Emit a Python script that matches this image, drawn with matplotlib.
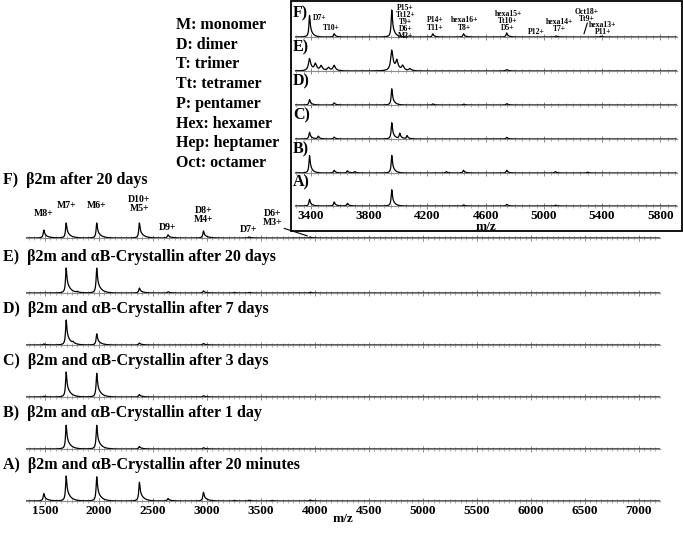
import numpy as np
import matplotlib
matplotlib.use("Agg")
import matplotlib.pyplot as plt
from matplotlib.patches import Rectangle
from matplotlib.ticker import MultipleLocator, FixedLocator

plt.rcParams["font.family"] = ["Liberation Serif", "DejaVu Serif"]
plt.rcParams["font.weight"] = "bold"

# ---- main spectra: peak m/z and relative heights ----
main_titles = [
    "F)  \u03b22m after 20 days",
    "E)  \u03b22m and \u03b1B-Crystallin after 20 days",
    "D)  \u03b22m and \u03b1B-Crystallin after 7 days",
    "C)  \u03b22m and \u03b1B-Crystallin after 3 days",
    "B)  \u03b22m and \u03b1B-Crystallin after 1 day",
    "A)  \u03b22m and \u03b1B-Crystallin after 20 minutes",
]
f_mz = [1490, 1697, 1980, 2375, 2640, 2968, 3390, 3955]
f_int = [0.32, 0.60, 0.60, 0.60, 0.13, 0.28, 0.04, 0.04]
e_mz = [1697, 1800, 1980, 2375, 2640, 2968, 3250, 3390, 3955]
e_int = [1.00, 0.04, 1.00, 0.20, 0.05, 0.08, 0.02, 0.02, 0.03]
d_mz = [1490, 1697, 1760, 1980, 2375, 2968]
d_int = [0.04, 1.00, 0.06, 0.45, 0.08, 0.06]
c_mz = [1490, 1697, 1980, 2375, 2968]
c_int = [0.03, 1.00, 0.95, 0.10, 0.05]
b_mz = [1697, 1980, 2375, 2968]
b_int = [0.95, 0.95, 0.10, 0.05]
a_mz = [1490, 1697, 1980, 2375, 2640, 2968, 3250, 3390, 3600, 3955]
a_int = [0.30, 1.00, 0.97, 0.75, 0.10, 0.35, 0.02, 0.03, 0.02, 0.04]
main_mz = [f_mz, e_mz, d_mz, c_mz, b_mz, a_mz]
main_int = [f_int, e_int, d_int, c_int, b_int, a_int]

# peak labels on spectrum F (x, y in data units)
f_labels = ["M8+", "M7+", "M6+", "D10+\nM5+", "D9+", "D8+\nM4+", "D7+", "D6+\nM3+"]
f_label_x = [1490, 1697, 1980, 2375, 2640, 2968, 3390, 3610]
f_label_y = [1.00, 1.28, 1.28, 1.36, 0.44, 0.92, 0.32, 0.80]

legend_lines = ["M: monomer", "D: dimer", "T: trimer", "Tt: tetramer",
                "P: pentamer", "Hex: hexamer", "Hep: heptamer", "Oct: octamer"]

# ---- inset (zoom 3300-5900) ----
inset_rows = ["F)", "E)", "D)", "C)", "B)", "A)"]
inset_ticks = [3400, 3800, 4200, 4600, 5000, 5400, 5800]
inf_mz = [3390, 3559, 3955, 4237, 4448, 4745, 5084, 5392]
inf_int = [0.80, 0.12, 1.00, 0.12, 0.12, 0.15, 0.04, 0.03]
ine_mz = [3390, 3430, 3470, 3520, 3559, 3955, 3990, 4030, 4080, 4745]
ine_int = [0.45, 0.25, 0.18, 0.12, 0.20, 0.75, 0.35, 0.18, 0.08, 0.05]
ind_mz = [3390, 3559, 3955, 4237, 4448, 4745]
ind_int = [0.20, 0.08, 0.60, 0.04, 0.03, 0.05]
inc_mz = [3390, 3450, 3559, 3955, 4010, 4060, 4745]
inc_int = [0.25, 0.10, 0.07, 0.60, 0.20, 0.12, 0.06]
inb_mz = [3390, 3559, 3650, 3700, 3955, 4330, 4448, 4745, 5080, 5300]
inb_int = [0.65, 0.10, 0.08, 0.05, 0.65, 0.05, 0.10, 0.10, 0.05, 0.03]
ina_mz = [3390, 3559, 3650, 3955, 4448, 4745, 5080]
ina_int = [0.25, 0.15, 0.10, 0.60, 0.04, 0.06, 0.03]
inset_mz = [inf_mz, ine_mz, ind_mz, inc_mz, inb_mz, ina_mz]
inset_int = [inf_int, ine_int, ind_int, inc_int, inb_int, ina_int]

inset_labels = ["D7+", "T10+", "P15+\nTt12+\nT9+\nD6+\nM3+", "P14+\nT11+",
                "hexa16+\nT8+", "hexa15+\nTt10+\nD5+", "P12+", "hexa14+\nT7+",
                "Oct18+\nTt9+", "hexa13+\nP11+"]
inset_label_x = [3414, 3537, 4050, 4252, 4458, 4754, 4950, 5105, 5297, 5405]
inset_label_y = [0.70, 0.33, 0.56, 0.48, 0.48, 0.59, 0.17, 0.44, 0.81, 0.33]


def spectrum(x, mz, inten, width, tail):
    y = np.zeros_like(x)
    for c, h in zip(mz, inten):
        d = x - c
        lor = 1.0 / (1.0 + (d / width) ** 2)
        right = 0.5 * lor + 0.5 * np.exp(-np.clip(d, 0, None) / tail)
        y += h * np.where(d < 0, lor, right)
    return y


W, H = 683, 536
fig = plt.figure(figsize=(W / 100, H / 100), dpi=100)


def fx(px):
    return px / W


def fy(py):
    return 1 - py / H


def style_axis(ax, minor):
    for s in ["top", "left", "right"]:
        ax.spines[s].set_visible(False)
    ax.spines["bottom"].set_color("0.55")
    ax.spines["bottom"].set_linewidth(0.8)
    ax.set_yticks([])
    ax.xaxis.set_minor_locator(MultipleLocator(minor))
    ax.tick_params(axis="x", which="major", direction="inout", length=4,
                   width=0.6, color="0.45")
    ax.tick_params(axis="x", which="minor", direction="inout", length=2.5,
                   width=0.5, color="0.55")
    ax.patch.set_alpha(0)


# main panels
main_base = [238, 293, 345, 397, 449, 501]
x_main = np.linspace(1325, 7195, 6000)
for i, (mz, inten) in enumerate(zip(main_mz, main_int)):
    yb = main_base[i]
    ax = fig.add_axes([fx(26), fy(yb), fx(634), 30 / H])
    ax.plot(x_main, spectrum(x_main, mz, inten, 7, 35), color="black", lw=0.9)
    ax.set_xlim(1325, 7195)
    ax.set_ylim(0, 1.2)
    ax.xaxis.set_major_locator(MultipleLocator(500))
    style_axis(ax, 50)
    title_y = 180 if i == 0 else yb - 36
    fig.text(fx(3), fy(title_y), main_titles[i], fontsize=11.5,
             fontweight="bold", va="center", ha="left")
    if i == 0:
        for lab, lx, ly in zip(f_labels, f_label_x, f_label_y):
            ax.text(lx, ly, lab, fontsize=7, fontweight="bold", ha="center",
                    va="center", linespacing=0.95, clip_on=False)
        ax.annotate("", xy=(3955, 0.05), xytext=(3690, 0.42),
                    arrowprops=dict(arrowstyle="-", lw=0.8, color="black"),
                    annotation_clip=False)
    if i == 5:
        ax.tick_params(axis="x", which="major", labelsize=9.5, pad=1)
        for t in ax.get_xticklabels():
            t.set_fontweight("bold")
        ax.set_xlabel("m/z", fontsize=9.5, fontweight="bold", labelpad=-3)
    else:
        ax.tick_params(axis="x", labelbottom=False)

# legend text
for k, line in enumerate(legend_lines):
    fig.text(fx(176), fy(25 + k * 19.7), line, fontsize=11.5, fontweight="bold",
             va="center", ha="left")

# inset frame
fig.add_artist(Rectangle((fx(291), fy(231)), fx(391), 231 / H - 0.002,
                         transform=fig.transFigure, fill=False, lw=1.3,
                         edgecolor="black"))

inset_base = [37, 71, 105, 139, 173, 206]
x_in = np.linspace(3290, 5915, 4000)
for i, (mz, inten) in enumerate(zip(inset_mz, inset_int)):
    yb = inset_base[i]
    ax = fig.add_axes([fx(295), fy(yb), fx(382), 30 / H])
    width = 9 if i == 1 else 5
    ax.plot(x_in, spectrum(x_in, mz, inten, width, 18), color="black", lw=0.9)
    ax.set_xlim(3290, 5915)
    ax.set_ylim(0, 30 / 27)
    ax.xaxis.set_major_locator(FixedLocator(inset_ticks))
    style_axis(ax, 50)
    fig.text(fx(293), fy(yb - 24), inset_rows[i], fontsize=11.5,
             fontweight="bold", va="center", ha="left")
    if i == 0:
        for lab, lx, ly in zip(inset_labels, inset_label_x, inset_label_y):
            ax.text(lx, ly, lab, fontsize=5.5, fontweight="bold",
                    ha="left" if lab == "D7+" else "center", va="center",
                    linespacing=0.85, clip_on=False)
        ax.annotate("", xy=(5270, 0.02), xytext=(5305, 0.62),
                    arrowprops=dict(arrowstyle="-", lw=0.8, color="black"),
                    annotation_clip=False)
    if i == 5:
        ax.tick_params(axis="x", which="major", labelsize=9.5, pad=1)
        for t in ax.get_xticklabels():
            t.set_fontweight("bold")
        ax.set_xlabel("m/z", fontsize=9.5, fontweight="bold", labelpad=-1)
    else:
        ax.tick_params(axis="x", labelbottom=False)

fig.savefig("out.png", dpi=100)
